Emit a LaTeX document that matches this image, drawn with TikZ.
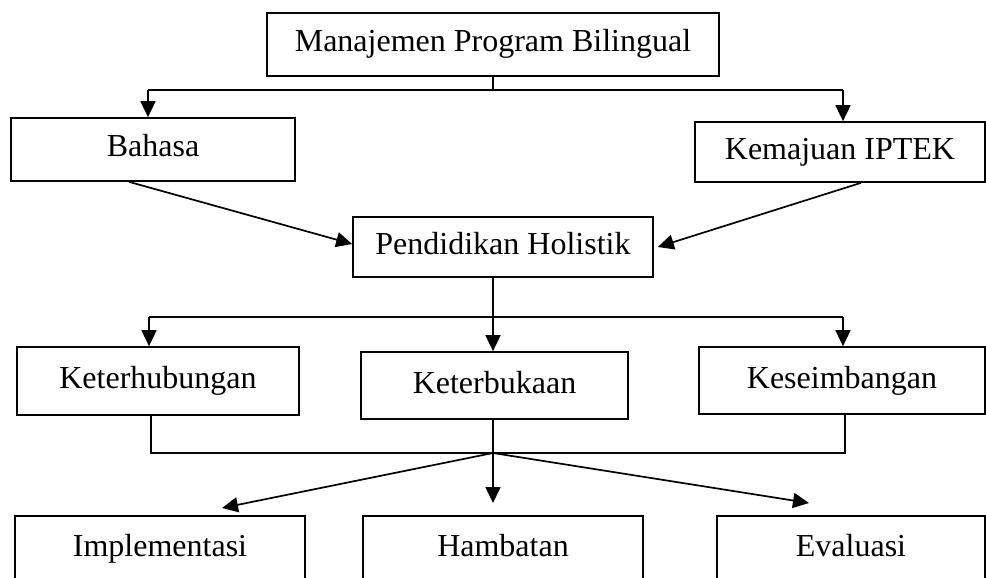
\documentclass[tikz,border=0pt]{standalone}
\usepackage{fontspec}
\setmainfont{Liberation Serif}
\usetikzlibrary{arrows.meta}
\begin{document}
\begin{tikzpicture}[x=1pt,y=-1pt,
  box/.style={draw, line width=1.7pt, inner sep=0pt, text height=21pt, text depth=6pt,
    font=\fontsize{32}{36}\selectfont},
  conn/.style={line width=1.7pt},
  arr/.style={line width=1.7pt, -{Triangle[length=16pt,width=15pt]}}]
\useasboundingbox (0,0) rectangle (986,578);
\clip (0,0) rectangle (986,578);
% boxes
\node[box, minimum width=452pt, minimum height=63pt] (top) at (493,44.5) {Manajemen Program Bilingual};
\node[box, minimum width=284pt, minimum height=63pt] (bahasa) at (153,149.5) {Bahasa};
\node[box, minimum width=290pt, minimum height=60pt] (kem) at (840,152) {Kemajuan IPTEK};
\node[box, minimum width=300pt, minimum height=60pt] (pend) at (503,247) {Pendidikan Holistik};
\node[box, minimum width=282pt, minimum height=68pt] (keth) at (158,381) {Keterhubungan};
\node[box, minimum width=267pt, minimum height=67pt] (ketb) at (494.5,385.5) {Keterbukaan};
\node[box, minimum width=286pt, minimum height=67pt] (kese) at (842,380.5) {Keseimbangan};
\node[box, minimum width=290pt, minimum height=66pt] (impl) at (160,549) {Implementasi};
\node[box, minimum width=280pt, minimum height=66pt] (hamb) at (503,549) {Hambatan};
\node[box, minimum width=268pt, minimum height=66pt] (eval) at (851,549) {Evaluasi};
% junction coordinates
\coordinate (j1) at (493,90);
\coordinate (j1l) at (148,90);
\coordinate (j1r) at (843,90);
\coordinate (j2) at (493,317);
\coordinate (j2l) at (149,317);
\coordinate (j2r) at (843,317);
\coordinate (j3) at (493,453);
\coordinate (j3l) at (151,453);
\coordinate (j3r) at (845,453);
\coordinate (t1) at (222,508);
\coordinate (t2) at (493,503);
\coordinate (t3) at (809,503);
% top level
\draw[conn] (top.south -| j1) -- (j1);
\draw[conn] (j1l) -- (j1r);
\draw[arr] (j1l) -- (j1l |- bahasa.north);
\draw[arr] (j1r) -- (j1r |- kem.north);
% to pendidikan
\draw[arr] ([xshift=-24pt]bahasa.south) -- ([yshift=3pt]pend.west);
\draw[arr] ([xshift=21pt]kem.south) -- ([xshift=4pt]pend.east);
% pendidikan down
\draw[conn] (pend.south -| j2) -- (j2);
\draw[conn] (j2l) -- (j2r);
\draw[arr] (j2l) -- (j2l |- keth.north);
\draw[arr] (j2) -- (j2 |- ketb.north);
\draw[arr] (j2r) -- (j2r |- kese.north);
% lower join
\draw[conn] (keth.south -| j3l) -- (j3l) -- (j3r) -- (kese.south -| j3r);
\draw[conn] (ketb.south -| j3) -- (j3);
\draw[arr] (j3) -- (t1);
\draw[arr] (j3) -- (t2);
\draw[arr] (j3) -- (t3);
\end{tikzpicture}
\end{document}
